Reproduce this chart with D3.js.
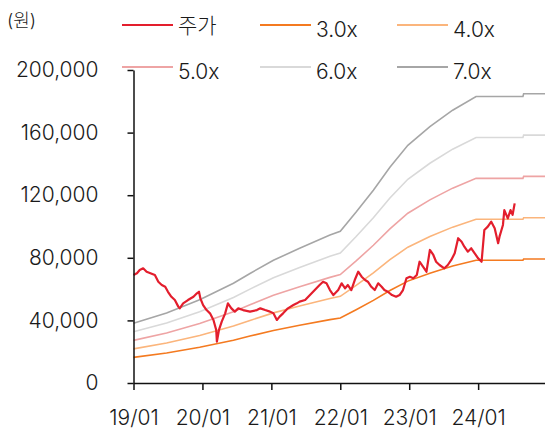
<!DOCTYPE html>
<html>
<head>
<meta charset="utf-8">
<script src="https://cdn.jsdelivr.net/npm/d3@7"></script>
<style>
    body { margin: 0; background: #fff; }
    text { font-family: Inter, "Noto Sans CJK KR", sans-serif; font-weight: 300; fill: #1a1a1a; }
</style>
</head>
<body>
<div id="divChart"></div>
<script>
    // price (year as decimal, won)
    var priceSeries = [
        [2019.00, 69000], [2019.05, 70100], [2019.09, 72200], [2019.14, 73300], [2019.19, 71100],
        [2019.31, 69000], [2019.36, 64700], [2019.41, 62600], [2019.46, 61500], [2019.50, 58300],
        [2019.55, 55100], [2019.60, 53000], [2019.65, 48800], [2019.67, 47700], [2019.72, 50900],
        [2019.79, 53000], [2019.87, 55100], [2019.92, 57300], [2019.95, 58300], [2019.97, 54100],
        [2020.01, 49800], [2020.06, 46600], [2020.11, 44500], [2020.16, 40300], [2020.20, 33900],
        [2020.21, 26400], [2020.24, 33900], [2020.28, 39200], [2020.33, 44500], [2020.37, 50900],
        [2020.42, 47700], [2020.47, 45600], [2020.52, 47700], [2020.59, 46600], [2020.69, 45600],
        [2020.79, 46600], [2020.84, 47700], [2020.91, 46600], [2020.98, 45600], [2021.03, 44500],
        [2021.08, 40300], [2021.12, 42400], [2021.17, 44500], [2021.24, 47700], [2021.32, 49800],
        [2021.37, 50900], [2021.41, 52000], [2021.49, 53000], [2021.56, 56200], [2021.63, 59400],
        [2021.70, 62600], [2021.75, 64700], [2021.80, 63700], [2021.85, 59400], [2021.90, 56200],
        [2021.97, 59400], [2022.02, 63700], [2022.07, 60500], [2022.11, 62600], [2022.16, 59400],
        [2022.21, 65800], [2022.26, 71100], [2022.31, 67900], [2022.36, 65800], [2022.40, 64700],
        [2022.45, 61500], [2022.50, 59400], [2022.55, 63700], [2022.60, 61500], [2022.64, 59400],
        [2022.69, 58300], [2022.75, 56200], [2022.81, 55100], [2022.86, 56200], [2022.91, 59400],
        [2022.96, 66900], [2023.01, 67900], [2023.06, 66900], [2023.11, 69000], [2023.15, 77500],
        [2023.20, 74300], [2023.25, 71100], [2023.30, 85000], [2023.35, 81800], [2023.39, 77500],
        [2023.44, 75400], [2023.51, 73300], [2023.56, 75400], [2023.61, 78600], [2023.66, 82900],
        [2023.71, 92500], [2023.76, 90300], [2023.80, 87100], [2023.85, 83900], [2023.90, 86100],
        [2023.95, 82900], [2024.00, 79700], [2024.05, 77500], [2024.09, 97800], [2024.14, 99900],
        [2024.19, 103100], [2024.24, 98900], [2024.29, 89300], [2024.31, 93500], [2024.36, 101000],
        [2024.38, 110500], [2024.43, 105200], [2024.47, 110500], [2024.50, 107400], [2024.53, 114800]
    ];

    // BPS used for the PBR band lines
    var bpsDates  = [2019.00, 2019.48, 2019.96, 2020.45, 2020.69, 2021.03, 2021.41, 2021.85, 2022.00,
                     2022.23, 2022.48, 2022.72, 2022.98, 2023.30, 2023.63, 2023.97, 2024.65, 2024.66, 2024.97];
    var bpsValues = [5450, 6380, 7600, 9100, 10000, 11200, 12300, 13500, 13850,
                     15600, 17600, 19700, 21700, 23400, 24900, 26150, 26150, 26400, 26400];
    var multiples = [3, 4, 5, 6, 7];

    var legendLabels = ["주가", "3.0x", "4.0x", "5.0x", "6.0x", "7.0x"];
    var colors = ["#e31e2d", "#f47a20", "#fbb57c", "#eea4a4", "#d9d9d9", "#a6a6a6"];
    var xTickValues = [2019, 2020, 2021, 2022, 2023, 2024];
    var yTickValues = [0, 40000, 80000, 120000, 160000, 200000];

    function init()
    {
        var chartPlace = document.getElementById("divChart");
        var width = 545;
        var height = 432;

        var svg = d3.select(chartPlace).append("svg")
            .attr("width", width)
            .attr("height", height);

        var x = d3.scaleLinear()
            .domain([2019, 2024.97])
            .range([133.5, 545]);

        var y = d3.scaleLinear()
            .domain([0, 200000])
            .range([383, 70]);

        var line = d3.line()
            .x(function(d){ return x(d[0]); })
            .y(function(d){ return y(d[1]); });

        // band lines: multiple * BPS
        multiples.forEach(function(m, i) {
            var pts = bpsDates.map(function(t, j){ return [t, bpsValues[j] * m]; });
            svg.append("path")
                .attr("d", line(pts))
                .style("fill", "none")
                .style("stroke", colors[i + 1])
                .style("stroke-width", 1.6);
        });

        // price
        svg.append("path")
            .attr("d", line(priceSeries))
            .style("fill", "none")
            .style("stroke", colors[0])
            .style("stroke-width", 2.2)
            .style("stroke-linejoin", "round");

        // y axis
        svg.append("g")
            .attr("transform", "translate(133.5,0)")
            .call(d3.axisLeft(y)
                .tickValues(yTickValues)
                .tickSize(6)
                .tickSizeOuter(0)
                .tickPadding(29)
                .tickFormat(d3.format(",")));

        // x axis
        svg.append("g")
            .attr("transform", "translate(0,383)")
            .call(d3.axisBottom(x)
                .tickValues(xTickValues)
                .tickSize(7)
                .tickSizeOuter(0)
                .tickPadding(20)
                .tickFormat(function(d){ return String(d).slice(2) + "/01"; }));

        svg.selectAll(".domain, .tick line")
            .style("stroke", "#111")
            .style("stroke-width", 1.5);
        svg.selectAll(".tick text")
            .style("font-size", "21px")
            .style("fill", "#1a1a1a");

        // unit
        svg.append("text")
            .attr("x", 7)
            .attr("y", 27)
            .style("font-size", "18px")
            .text("(원)");

        // legend
        var colX = [122, 260, 397];
        var rowY = [25, 67];
        legendLabels.forEach(function(lbl, i) {
            var lx = colX[i % 3];
            var ly = rowY[Math.floor(i / 3)];
            svg.append("line")
                .attr("x1", lx).attr("x2", lx + 51)
                .attr("y1", ly).attr("y2", ly)
                .style("stroke", colors[i])
                .style("stroke-width", 2);
            svg.append("text")
                .attr("x", lx + 56)
                .attr("y", i == 0 ? ly + 8 : ly + 12)
                .style("font-size", "21px")
                .text(lbl);
        });
    }

    window.onload = init;
</script>
</body>
</html>
